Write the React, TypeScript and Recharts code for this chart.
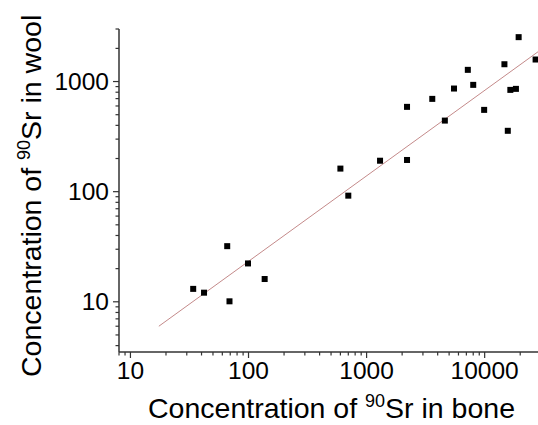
import { ComposedChart, Label, Scatter, XAxis, YAxis } from 'recharts'

// 90Sr in bone (x) vs wool (y), both log scale
const BONE = [34, 42, 66, 69, 99, 137, 600, 700, 1300, 2200, 2200, 3600, 4600, 5500, 7200, 8000, 9900, 14700, 15700, 16500, 18400, 19400, 27000]
const WOOL = [13.1, 12.1, 32, 10.1, 22.3, 16.1, 162, 92, 191, 589, 194, 696, 442, 864, 1277, 933, 553, 1436, 357, 840, 858, 2530, 1585]

const FIT_X = [17.4, 30000]
const FIT_Y = [6.0, 1950]

const X_MAJOR = [10, 100, 1000, 10000]
const X_MINOR = [8, 9, 20, 30, 40, 50, 60, 70, 80, 90, 200, 300, 400, 500, 600, 700, 800, 900, 2000, 3000, 4000, 5000, 6000, 7000, 8000, 9000, 20000, 30000]
const Y_MAJOR = [10, 100, 1000]
const Y_MINOR = [4, 5, 6, 7, 8, 9, 20, 30, 40, 50, 60, 70, 80, 90, 200, 300, 400, 500, 600, 700, 800, 900, 2000, 3000]

const points = BONE.map((x, i) => ({ x, y: WOOL[i] }))
const fit = FIT_X.map((x, i) => ({ x, y: FIT_Y[i] }))

const AXIS = '#333'
const FONT = '"Liberation Sans", Arial, sans-serif'

function XTick(props: any) {
  const { x, y, payload } = props
  const major = X_MAJOR.includes(payload.value)
  return (
    <g>
      <line x1={x} x2={x} y1={y} y2={y + (major ? 6 : 3.5)} stroke={AXIS} strokeWidth={1.2} />
      {major && (
        <text x={x} y={y + 27} textAnchor="middle" fontSize={24.5} fontFamily={FONT} fill="#000">
          {payload.value}
        </text>
      )}
    </g>
  )
}

function YTick(props: any) {
  const { x, y, payload } = props
  const major = Y_MAJOR.includes(payload.value)
  return (
    <g>
      <line x1={x} x2={x - (major ? 6 : 3.5)} y1={y} y2={y} stroke={AXIS} strokeWidth={1.2} />
      {major && (
        <text x={x - 10} y={y + 8.5} textAnchor="end" fontSize={24.5} fontFamily={FONT} fill="#000">
          {payload.value}
        </text>
      )}
    </g>
  )
}

const Square = (props: any) => (
  <rect x={props.cx - 3} y={props.cy - 3} width={6} height={6} fill="#000" />
)

export default function App() {
  return (
    <div style={{ position: 'absolute', left: 0, top: 0, width: 538, height: 425, overflow: 'hidden', background: '#fff' }}>
      <ComposedChart width={545} height={425} margin={{ top: 29, right: 4, bottom: 0, left: 0 }}>
        <XAxis
          type="number"
          dataKey="x"
          scale="log"
          domain={[8, 30000]}
          allowDataOverflow
          ticks={[...X_MAJOR, ...X_MINOR]}
          interval={0}
          height={73}
          tickSize={0}
          tickMargin={0}
          tickLine={false}
          axisLine={{ stroke: AXIS, strokeWidth: 1.5 }}
          tick={<XTick />}
        >
          <Label
            content={() => (
              <text x={148} y={418} fontSize={28.5} fontFamily={FONT} fill="#000">
                Concentration of <tspan fontSize={18} dy={-11}>90</tspan>
                <tspan dy={11}>Sr in bone</tspan>
              </text>
            )}
          />
        </XAxis>
        <YAxis
          type="number"
          dataKey="y"
          scale="log"
          domain={[3.5, 3000]}
          allowDataOverflow
          ticks={[...Y_MAJOR, ...Y_MINOR]}
          interval={0}
          width={119}
          tickSize={0}
          tickMargin={0}
          tickLine={false}
          axisLine={{ stroke: AXIS, strokeWidth: 1.5 }}
          tick={<YTick />}
        >
          <Label
            content={() => (
              <text x={41} y={377} transform="rotate(-90 41 377)" fontSize={28.5} fontFamily={FONT} fill="#000">
                Concentration of <tspan fontSize={18} dy={-11}>90</tspan>
                <tspan dy={11}>Sr in wool</tspan>
              </text>
            )}
          />
        </YAxis>
        <Scatter
          data={fit}
          line={{ stroke: '#c48a8a', strokeWidth: 1 }}
          shape={() => <g />}
          isAnimationActive={false}
        />
        <Scatter data={points} shape={<Square />} isAnimationActive={false} />
      </ComposedChart>
    </div>
  )
}
